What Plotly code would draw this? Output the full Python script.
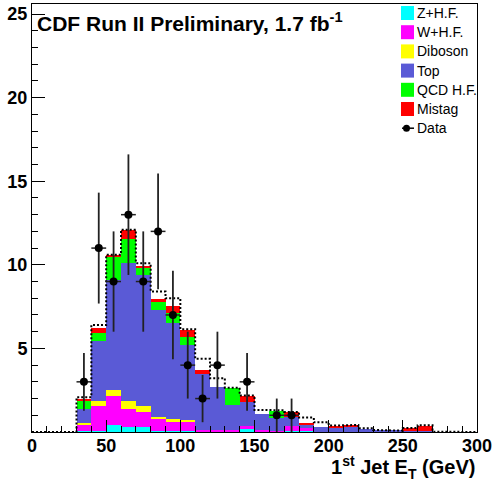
import plotly.graph_objects as go

# ---------------- data (bins of 10 GeV from 0 to 300) ----------------
bin_edges = list(range(0, 310, 10))
bin_centers = [e + 5 for e in bin_edges[:-1]]

zhf     = [0,0,0, 0.05,0.05,0.40,0.32,0.32,0.05,0.05,0.05,0.02,0.02,0.02,0.15,0.02,0.05,0.04,0.04,0.02, 0,0,0,0,0,0,0,0,0,0]
whf     = [0,0,0, 0.41,1.51,1.76,1.04,0.90,0.73,0.57,0.60,0.10,0.10,0.08,0.20,0.08,0.02,0.32,0.22,0, 0,0,0,0,0,0,0,0,0,0]
diboson = [0,0,0, 0.06,0.30,0.36,0.50,0.34,0.14,0.14,0.05,0,0,0,0,0,0,0,0,0, 0,0,0,0,0,0,0,0,0,0]
top     = [0,0,0, 0.84,3.61,6.58,8.25,7.85,6.39,5.75,4.52,3.36,2.60,1.52,1.47,0.98,0.75,0.52,0.20,0.30, 0.24,0.28,0.18,0.10,0.07,0.08,0.06,0,0,0]
qcd     = [0,0,0, 0.50,0.47,1.40,1.46,0.40,0.44,0.60,0.46,0,0,1.00,0,0,0.44,0,0,0, 0,0,0,0,0,0,0,0,0,0]
mistag  = [0,0,0, 0.12,0.30,0.05,0.54,0.10,0.20,0.44,0.44,0.24,0,0,0.34,0,0,0.30,0.06,0, 0.08,0.12,0,0,0,0.14,0.32,0,0,0]
band    = [0,0,0, 2.08,6.40,10.60,12.10,10.10,8.41,8.00,6.15,4.38,3.22,2.65,2.18,1.32,1.30,1.20,0.86,0.58, 0.38,0.42,0.22,0.12,0.08,0.24,0.40,0.02,0.02,0]
data    = [0,0,0, 3,11,9,13,9,12,7,4,2,4,0,3,0,1,1,0,0, 0,0,0,0,0,0,0,0,0,0]

series_names  = ["Z+H.F.", "W+H.F.", "Diboson", "Top", "QCD H.F.", "Mistag"]
series_values = [zhf, whf, diboson, top, qcd, mistag]
series_colors = ["#00FFFF", "#FF00FF", "#FFFF00", "#5A5AD6", "#00FF00", "#FF0000"]

x_ticks = [0, 50, 100, 150, 200, 250, 300]
y_ticks = [5, 10, 15, 20, 25]

# ---------------- figure ----------------
W, H = 496, 482
L, R, T, B = 32, 19, 4, 50
YMAX = 25.6

def px(x):
    return (x - L) / (W - L - R)

def py(y):
    return (H - B - y) / (H - B - T)

fig = go.Figure()

for name, vals, col in zip(series_names, series_values, series_colors):
    fig.add_trace(go.Bar(
        x=bin_centers, y=vals, width=10, name=name,
        marker=dict(color=col, line=dict(width=0)),
        showlegend=False,
    ))

# dotted step outline of the prediction
sx, sy = [], []
for i, v in enumerate(band):
    sx += [bin_edges[i], bin_edges[i + 1]]
    sy += [v, v]
fig.add_trace(go.Scatter(
    x=sx, y=sy, mode="lines",
    line=dict(color="black", width=2, dash="2px,2px"),
    showlegend=False, hoverinfo="skip",
))

# data points
dx = [c for c, d in zip(bin_centers, data) if d > 0]
dy = [d for d in data if d > 0]
fig.add_trace(go.Scatter(
    x=dx, y=dy, mode="markers", name="Data",
    marker=dict(color="black", size=8),
    error_y=dict(type="data", array=[d ** 0.5 for d in dy], color="#222222", thickness=1.8, width=0),
    error_x=dict(type="constant", value=5, color="#222222", thickness=1.5, width=0),
    showlegend=False,
))

font_family = "Liberation Sans, Arial, sans-serif"

fig.update_layout(
    width=W, height=H,
    margin=dict(l=L, r=R, t=T, b=B),
    paper_bgcolor="white", plot_bgcolor="white",
    barmode="stack", bargap=0,
    font=dict(family=font_family, color="black"),
    xaxis=dict(
        range=[0, 300], tickmode="array", tickvals=x_ticks,
        ticks="inside", ticklen=12, tickcolor="black", tickwidth=1,
        minor=dict(dtick=10, tick0=0, ticks="inside", ticklen=6, tickcolor="black", tickwidth=1),
        showgrid=False, zeroline=False,
        showline=True, linecolor="black", linewidth=1, mirror=True,
        ticklabelstandoff=-3,
        tickfont=dict(size=18, family=font_family, weight="bold", color="black"),
    ),
    yaxis=dict(
        range=[0, YMAX], tickmode="array", tickvals=y_ticks,
        ticks="inside", ticklen=13, tickcolor="black", tickwidth=1,
        minor=dict(dtick=1, tick0=0, ticks="inside", ticklen=6, tickcolor="black", tickwidth=1),
        showgrid=False, zeroline=False,
        showline=True, linecolor="black", linewidth=1, mirror=True,
        tickfont=dict(size=18, family=font_family, weight="bold", color="black"),
    ),
)

# title text
fig.add_annotation(
    x=px(35), y=py(22), xref="paper", yref="paper", xanchor="left", yanchor="middle",
    text="CDF Run II Preliminary, 1.7 fb<sup>-1</sup>", showarrow=False,
    font=dict(size=21, family=font_family, weight="bold", color="black"),
)

# x axis title
fig.add_annotation(
    x=1, y=py(467), xref="paper", yref="paper", xanchor="right", yanchor="middle",
    text="1<sup>st</sup> Jet E<sub>T</sub> (GeV)", showarrow=False,
    font=dict(size=20, family=font_family, weight="bold", color="black"),
)

# legend (ROOT style)
row0, dy_row = 13, 19.2
for i, (name, col) in enumerate(zip(series_names, series_colors)):
    yc = row0 + dy_row * i
    fig.add_shape(type="rect", xref="paper", yref="paper",
                  x0=px(401), x1=px(414), y0=py(yc + 7), y1=py(yc - 7),
                  fillcolor=col, line=dict(width=0))
    fig.add_annotation(x=px(415), y=py(yc), xref="paper", yref="paper",
                       xanchor="left", yanchor="middle", text=name, showarrow=False,
                       font=dict(size=14, family=font_family, color="black"))
yc = row0 + dy_row * 6
fig.add_shape(type="line", xref="paper", yref="paper",
              x0=px(402), x1=px(414), y0=py(yc), y1=py(yc), line=dict(color="black", width=1.5))
fig.add_shape(type="circle", xref="paper", yref="paper",
              x0=px(403), x1=px(410), y0=py(yc + 3.5), y1=py(yc - 3.5),
              fillcolor="black", line=dict(width=0))
fig.add_annotation(x=px(415), y=py(yc), xref="paper", yref="paper",
                   xanchor="left", yanchor="middle", text="Data", showarrow=False,
                   font=dict(size=14, family=font_family, color="black"))

fig.write_html("out.html")
